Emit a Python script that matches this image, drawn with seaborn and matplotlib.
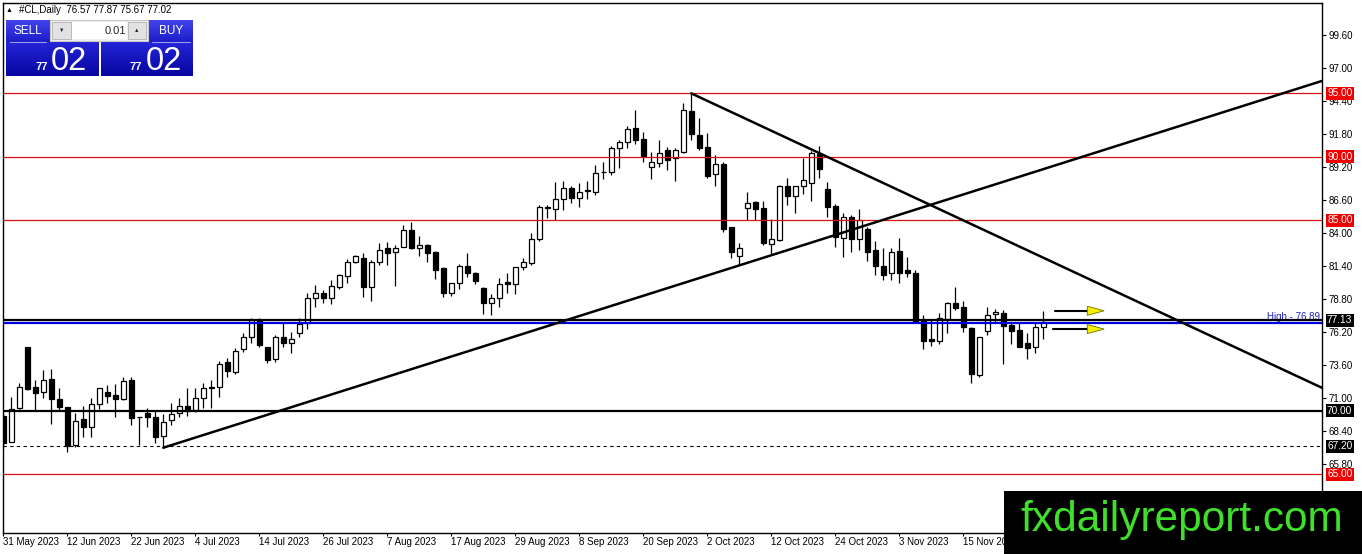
import numpy as np
import pandas as pd
import matplotlib
matplotlib.use("Agg")
import matplotlib.pyplot as plt
import matplotlib.transforms as mtransforms
from matplotlib.patches import Rectangle, Polygon
from matplotlib.colors import LinearSegmentedColormap
import seaborn as sns

# ---------------------------------------------------------------------------
# data: daily OHLC (31 May 2023 .. early Dec 2023)
# ---------------------------------------------------------------------------
opens = [69.58, 67.55, 70.20, 74.99, 71.90, 71.50, 72.47, 70.89, 70.26, 67.29,
         69.32, 68.69, 70.50, 71.44, 71.23, 70.89, 72.42, 69.50, 69.79, 69.53,
         68.00, 69.26, 69.79, 70.39, 70.05, 70.97, 71.80, 71.84, 73.86, 73.07,
         74.83, 75.78, 77.14, 74.99, 74.04, 75.78, 75.30, 76.15, 76.88, 78.85,
         79.30, 78.85, 79.72, 80.60, 81.74, 82.00, 79.72, 81.74, 82.79, 82.47,
         82.92, 84.23, 82.79, 83.05, 82.53, 81.21, 79.24, 80.03, 81.40, 80.87,
         79.64, 78.51, 78.85, 80.16, 79.95, 81.29, 81.60, 83.50, 86.07, 85.86,
         86.65, 87.52, 86.73, 87.33, 87.20, 88.78, 88.78, 90.67, 91.14, 92.24,
         91.41, 89.22, 89.49, 90.54, 89.88, 90.41, 93.61, 91.72, 90.75, 88.62,
         89.43, 84.50, 82.21, 85.94, 86.41, 85.94, 83.13, 83.44, 87.70, 86.94,
         87.73, 87.96, 90.22, 87.44, 86.12, 83.58, 85.28, 83.52, 84.29, 82.66,
         81.40, 80.87, 82.60, 81.08, 80.87, 77.09, 75.64, 75.51, 77.20, 78.51,
         78.14, 76.49, 72.81, 76.30, 77.59, 77.67, 76.75, 76.35, 75.30, 74.99,
         76.57]
highs = [69.80, 71.10, 72.15, 75.00, 72.42, 73.20, 73.26, 71.76, 70.30, 69.79,
         70.37, 70.97, 71.80, 72.00, 72.07, 72.68, 72.68, 69.52, 70.18, 70.05,
         69.71, 70.58, 70.97, 71.76, 71.76, 72.15, 72.42, 73.91, 74.12, 74.91,
         76.15, 77.28, 77.28, 75.04, 75.96, 76.88, 76.23, 77.28, 79.25, 79.90,
         79.50, 80.30, 80.80, 81.92, 82.26, 82.45, 81.87, 83.24, 83.30, 83.05,
         84.63, 84.84, 83.76, 83.10, 82.60, 81.29, 80.08, 81.55, 82.45, 80.95,
         79.77, 79.19, 80.42, 80.82, 81.34, 82.00, 83.97, 86.20, 86.20, 88.00,
         88.10, 87.70, 87.91, 88.10, 89.36, 89.57, 90.88, 91.30, 92.45, 93.69,
         91.93, 90.35, 91.33, 90.80, 90.67, 94.22, 95.00, 93.03, 91.85, 90.14,
         89.57, 84.50, 83.18, 87.25, 86.55, 86.55, 85.10, 87.78, 88.30, 87.73,
         89.88, 90.48, 90.85, 88.04, 86.28, 85.60, 85.41, 85.89, 84.44, 83.39,
         82.79, 82.79, 83.57, 82.13, 81.10, 77.54, 77.14, 77.72, 78.59, 79.77,
         78.66, 76.62, 75.83, 78.14, 77.98, 77.93, 77.01, 77.01, 76.14, 76.88,
         77.87]
lows = [67.00, 67.50, 70.10, 71.60, 70.00, 70.97, 68.95, 70.00, 66.77, 67.10,
        67.90, 67.95, 70.10, 70.58, 69.53, 70.85, 68.87, 67.30, 68.69, 67.48,
        67.03, 68.87, 69.53, 69.58, 69.92, 70.24, 70.18, 71.10, 72.68, 72.89,
        74.65, 75.30, 75.04, 73.78, 73.86, 75.04, 74.52, 75.83, 76.41, 78.20,
        78.50, 78.40, 79.60, 80.08, 81.66, 78.98, 78.66, 81.48, 81.48, 79.82,
        82.87, 82.71, 82.19, 81.74, 80.35, 78.98, 79.03, 79.56, 80.50, 79.98,
        77.61, 77.53, 78.14, 79.24, 79.19, 81.10, 81.48, 83.40, 85.15, 85.00,
        85.81, 86.33, 86.07, 86.68, 86.99, 88.25, 88.57, 89.15, 90.67, 90.98,
        89.62, 88.25, 89.22, 88.96, 88.10, 90.28, 91.33, 90.54, 88.36, 87.73,
        84.10, 82.05, 81.48, 85.02, 85.02, 83.05, 82.26, 83.40, 86.20, 85.55,
        87.07, 86.55, 88.31, 85.28, 82.87, 82.08, 82.53, 82.66, 81.82, 80.69,
        80.29, 80.29, 80.03, 80.50, 76.90, 74.86, 75.09, 75.25, 76.14, 77.93,
        76.22, 72.15, 72.68, 75.96, 76.93, 73.67, 75.25, 75.00, 74.04, 74.57,
        75.67]
closes = [67.48, 70.10, 71.84, 71.73, 71.37, 72.42, 70.89, 70.26, 67.24, 69.21,
          68.69, 70.50, 71.76, 71.18, 70.89, 72.34, 69.45, 69.48, 69.47, 67.95,
          69.13, 69.71, 70.39, 70.00, 70.97, 71.76, 71.84, 73.65, 73.15, 74.73,
          75.78, 77.14, 75.17, 73.99, 75.78, 75.36, 75.62, 76.83, 78.85, 79.30,
          78.85, 79.82, 80.69, 81.74, 82.18, 79.72, 81.74, 82.66, 82.40, 82.79,
          84.23, 82.79, 83.05, 82.40, 81.08, 79.24, 80.03, 81.40, 80.87, 80.24,
          78.51, 78.85, 79.95, 79.95, 81.29, 81.74, 83.50, 86.02, 85.99, 86.65,
          87.52, 86.73, 87.20, 87.36, 88.70, 88.82, 90.72, 91.14, 92.17, 91.33,
          90.09, 89.56, 90.27, 89.75, 90.51, 93.69, 91.77, 90.72, 88.50, 89.41,
          84.31, 82.47, 82.79, 86.33, 85.89, 83.18, 83.52, 87.70, 86.94, 87.70,
          88.17, 90.27, 89.01, 86.02, 83.71, 85.23, 83.50, 85.02, 82.47, 81.40,
          80.69, 82.53, 80.82, 80.87, 76.96, 75.51, 75.49, 77.33, 78.46, 78.11,
          76.56, 72.89, 75.77, 77.54, 77.75, 76.70, 76.30, 75.04, 74.96, 76.56,
          77.02]

date_labels = ["31 May 2023", "12 Jun 2023", "22 Jun 2023", "4 Jul 2023",
               "14 Jul 2023", "26 Jul 2023", "7 Aug 2023", "17 Aug 2023",
               "29 Aug 2023", "8 Sep 2023", "20 Sep 2023", "2 Oct 2023",
               "12 Oct 2023", "24 Oct 2023", "3 Nov 2023", "15 Nov 2023"]
date_label_bars = [0, 8, 16, 24, 32, 40, 48, 56, 64, 72, 80, 88, 96, 104, 112, 120]

price_ticks = [65.80, 68.40, 71.00, 73.60, 76.20, 78.80, 81.40, 84.00,
               86.60, 89.20, 91.80, 94.40, 97.00, 99.60]

red_levels = [95.00, 90.00, 85.00, 65.00]
black_levels = [77.13, 70.00]
dashed_level = 67.20
high_level = 76.89

rising_trend_x = [20, 164.84]
rising_trend_y = [67.08, 95.98]
falling_trend_x = [86, 164.84]
falling_trend_y = [95.00, 71.80]

arrow_levels = [77.87, 76.43]
arrow_tail_x = [131.5, 131.2]
arrow_head_x = [135.5, 135.5]

# ---------------------------------------------------------------------------
# style
# ---------------------------------------------------------------------------
sns.set_theme(style="white")
plt.rcParams['font.family'] = ['Liberation Sans', 'DejaVu Sans']

W, H = 1362, 554
fig = plt.figure(figsize=(W / 100, H / 100), dpi=100)
fig.patch.set_facecolor('white')
ax = fig.add_axes([3 / W, 21 / H, 1319 / W, 530 / H])
ax.set_facecolor('white')

df = pd.DataFrame({'open': opens, 'high': highs, 'low': lows, 'close': closes})
df['bar'] = np.arange(len(df))
up = df['close'] >= df['open']
body = (df['close'] - df['open']).abs().clip(lower=0.04)
bottom = df[['open', 'close']].min(axis=1)

# wicks + bodies
ax.vlines(df['bar'], df['low'], df['high'], color='black', lw=0.9, zorder=2)
ax.bar(df['bar'][up], body[up], bottom=bottom[up], width=0.58,
       color='white', edgecolor='black', lw=0.9, zorder=3)
ax.bar(df['bar'][~up], body[~up], bottom=bottom[~up], width=0.58,
       color='black', edgecolor='black', lw=0.9, zorder=3)

# horizontal levels
for lvl in red_levels:
    ax.axhline(lvl, color='#dd1111', lw=0.9, zorder=4)
ax.axhline(black_levels[0], color='black', lw=1.6, zorder=5)
ax.axhline(high_level, color='#0000dd', lw=1.6, zorder=4)
ax.axhline(black_levels[1], color='black', lw=1.6, zorder=4)
ax.axhline(dashed_level, color='black', lw=0.8, ls=(0, (3, 3)), zorder=4)

# trend lines
sns.lineplot(x=rising_trend_x, y=rising_trend_y, ax=ax, color='black', lw=1.8, zorder=5)
sns.lineplot(x=falling_trend_x, y=falling_trend_y, ax=ax, color='black', lw=1.8, zorder=5)

# yellow arrows
for lvl, x0, x1 in zip(arrow_levels, arrow_tail_x, arrow_head_x):
    ax.plot([x0, x1], [lvl, lvl], color='black', lw=1.5, zorder=6)
    ax.add_patch(Polygon([[x1, lvl + 0.36], [x1, lvl - 0.36], [x1 + 2.1, lvl]],
                         closed=True, fc='#f5f000', ec='#707000', lw=0.6, zorder=7))

ax.set_xlim(-0.04, 164.84)
ax.set_ylim(60.36, 102.12)

# axes / ticks
for sp in ax.spines.values():
    sp.set_color('black')
    sp.set_linewidth(1.0)
ax.yaxis.tick_right()
ax.set_yticks(price_ticks)
ax.set_yticklabels([f"{v:.2f}" for v in price_ticks])
ax.set_xticks(date_label_bars)
ax.set_xticklabels(date_labels, ha='left')
ax.tick_params(axis='y', right=True, left=False, labelright=True, labelleft=False,
               length=3, width=0.8, pad=2, labelsize=7, colors='black')
ax.tick_params(axis='x', bottom=True, length=2.5, width=0.8, pad=0.5,
               labelsize=7, colors='black')
ax.set_xlabel('')
ax.set_ylabel('')
ax.grid(False)

# level tags on the price scale
trans = mtransforms.blended_transform_factory(ax.transAxes, ax.transData)
for lvl in red_levels:
    ax.text(1 + 5 / 1319, lvl, f"{lvl:.2f}", transform=trans, ha='left', va='center',
            fontsize=7.3, color='white', clip_on=False, zorder=8,
            bbox=dict(boxstyle='square,pad=0.14', fc='#ee0000', ec='none'))
for lvl in [black_levels[0], black_levels[1], dashed_level]:
    ax.text(1 + 5 / 1319, lvl, f"{lvl:.2f}", transform=trans, ha='left', va='center',
            fontsize=7.3, color='white', clip_on=False, zorder=8,
            bbox=dict(boxstyle='square,pad=0.14', fc='black', ec='none'))
ax.text(0.9985, high_level + 0.45, f"High - {high_level:.2f}", transform=trans,
        ha='right', va='center', fontsize=7, color='#2020cc', zorder=3)

# ---------------------------------------------------------------------------
# overlay: header, trade panel, watermark (pixel coordinates)
# ---------------------------------------------------------------------------
ov = fig.add_axes([0, 0, 1, 1], zorder=10)
ov.patch.set_alpha(0)
ov.axis('off')


def grad_box(x0, y0, x1, y1, c_top, c_bot):
    cmap = LinearSegmentedColormap.from_list('g', [c_top, c_bot])
    ov.imshow(np.linspace(0, 1, 64).reshape(-1, 1), cmap=cmap,
              extent=(x0, x1, y1, y0), aspect='auto', interpolation='bilinear', zorder=1)


ov.text(6, 10, "\u25b2", fontsize=5, va='center', ha='left', color='black')
ov.text(19, 10, f"#CL,Daily  {opens[-1]:.2f} {highs[-1]:.2f} {lows[-1]:.2f} {closes[-1]:.2f}",
        fontsize=7, va='center', ha='left', color='black')

# sell / buy panel
grad_box(6, 20, 49.5, 42, '#4444ee', '#1c1cc8')
grad_box(149, 20, 193, 42, '#4444ee', '#1c1cc8')
grad_box(6, 42, 98.5, 76, '#2424d8', '#0606a0')
grad_box(101, 42, 193, 76, '#2424d8', '#0606a0')
ov.plot([10, 46], [41.5, 41.5], color='#9a9af0', lw=0.8, zorder=2)
ov.plot([152, 190], [41.5, 41.5], color='#9a9af0', lw=0.8, zorder=2)
ov.text(27.5, 31, "SELL", fontsize=8.5, color='white', ha='center', va='center', zorder=3)
ov.text(171, 31, "BUY", fontsize=8.5, color='white', ha='center', va='center', zorder=3)

ov.add_patch(Rectangle((50, 20), 98, 21, fc='#f0f0f0', ec='#c8c8c8', lw=0.8, zorder=2))
ov.add_patch(Rectangle((52, 22), 19, 17, fc='#e2e2e2', ec='#b0b0b0', lw=0.6, zorder=3))
ov.add_patch(Rectangle((72, 22), 55, 17, fc='white', ec='none', zorder=3))
ov.add_patch(Rectangle((128, 22), 18, 17, fc='#e2e2e2', ec='#b0b0b0', lw=0.6, zorder=3))
ov.text(61.5, 30.5, "\u25bc", fontsize=4, ha='center', va='center', zorder=4)
ov.text(137, 30.5, "\u25b2", fontsize=4, ha='center', va='center', zorder=4)
ov.text(126, 30.5, "0.01", fontsize=8, ha='right', va='center', zorder=4)

for x_small, x_big in [(36, 51), (130, 146)]:
    ov.text(x_small, 70, "77", fontsize=8, color='white', ha='left', va='baseline',
            fontweight='bold', zorder=4)
    ov.text(x_big, 70, "02", fontsize=23.5, color='white', ha='left', va='baseline', zorder=4)

# watermark
ov.add_patch(Rectangle((1004, 491), 358, 63, fc='black', ec='none', zorder=5))
ov.text(1182, 531.5, "fxdailyreport.com", fontsize=30.5, color='#3fe02a',
        ha='center', va='baseline', zorder=6)

ov.set_xlim(0, W)
ov.set_ylim(H, 0)

fig.savefig('out.png', dpi=100, facecolor='white')
